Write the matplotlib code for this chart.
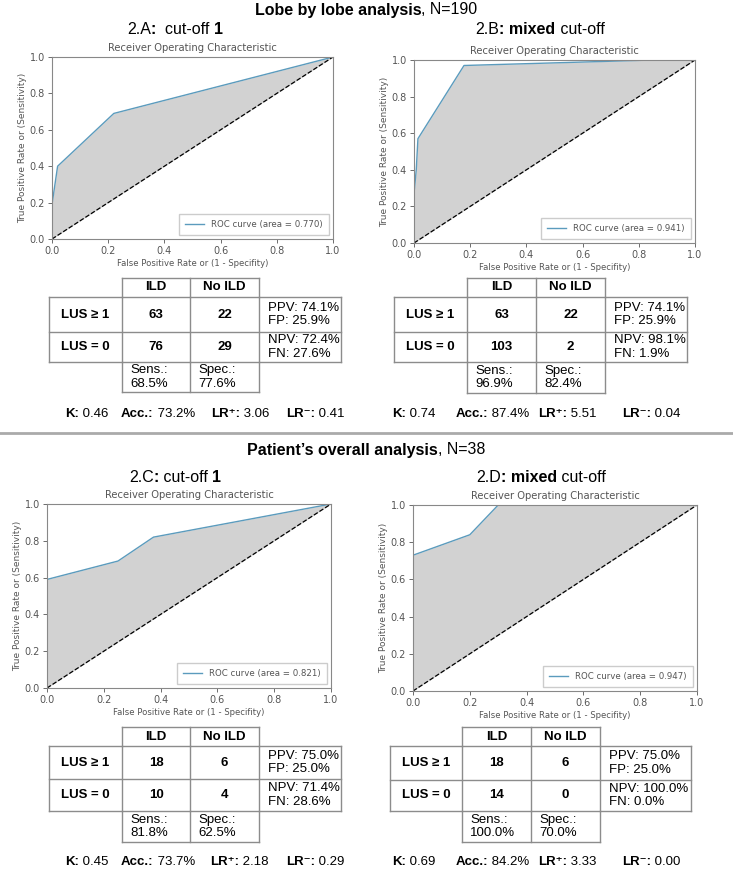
import matplotlib
matplotlib.use("Agg")
import matplotlib.pyplot as plt

plt.rcParams['font.family'] = ['Liberation Sans', 'DejaVu Sans']

# ROC curve points
fpr_a = [0.0, 0.0, 0.02, 0.22, 1.0]
tpr_a = [0.0, 0.19, 0.40, 0.69, 1.0]
fpr_b = [0.0, 0.0, 0.008, 0.014, 0.178, 0.85, 1.0]
tpr_b = [0.0, 0.27, 0.40, 0.57, 0.97, 1.0, 1.0]
fpr_c = [0.0, 0.0, 0.25, 0.375, 1.0]
tpr_c = [0.0, 0.59, 0.69, 0.82, 1.0]
fpr_d = [0.0, 0.0, 0.2, 0.3, 1.0]
tpr_d = [0.0, 0.73, 0.84, 1.0, 1.0]
auc = ["0.770", "0.941", "0.821", "0.947"]

# contingency tables: [[LUS>=1 ILD, LUS>=1 no ILD], [LUS=0 ILD, LUS=0 no ILD]]
counts_a = [[63, 22], [76, 29]]
counts_b = [[63, 22], [103, 2]]
counts_c = [[18, 6], [10, 4]]
counts_d = [[18, 6], [14, 0]]
# PPV, FP, NPV, FN (%)
pred_a = [74.1, 25.9, 72.4, 27.6]
pred_b = [74.1, 25.9, 98.1, 1.9]
pred_c = [75.0, 25.0, 71.4, 28.6]
pred_d = [75.0, 25.0, 100.0, 0.0]
# Sens, Spec (%)
sens_spec_a = [68.5, 77.6]
sens_spec_b = [96.9, 82.4]
sens_spec_c = [81.8, 62.5]
sens_spec_d = [100.0, 70.0]
# K, Acc (%), LR+, LR-
stats_a = [0.46, 73.2, 3.06, 0.41]
stats_b = [0.74, 87.4, 5.51, 0.04]
stats_c = [0.45, 73.7, 2.18, 0.29]
stats_d = [0.69, 84.2, 3.33, 0.00]

W, H = 733, 869
fig = plt.figure(figsize=(W / 100, H / 100), dpi=100)
renderer = fig.canvas.get_renderer()

ov = fig.add_axes([0, 0, 1, 1])
ov.set_xlim(0, W)
ov.set_ylim(H, 0)
ov.axis('off')

GRAY = '#555555'
LINE = '#8c8c8c'


def rich(x, y, pieces, size, ha='center'):
    # pieces of (text, weight) drawn side by side
    texts = [ov.text(0, y, s, fontsize=size, fontweight=w, va='center', ha='left')
             for s, w in pieces]
    widths = [t.get_window_extent(renderer).width for t in texts]
    x0 = x - sum(widths) / 2 if ha == 'center' else x
    for t, w in zip(texts, widths):
        t.set_x(x0)
        x0 += w


def roc(box, fpr, tpr, area):
    x0, y0, x1, y1 = box
    ax = fig.add_axes([x0 / W, 1 - y1 / H, (x1 - x0) / W, (y1 - y0) / H])
    ax.fill_between(fpr, tpr, fpr, color='#d2d2d2', lw=0)
    ax.plot(fpr, tpr, color='#5b9bbd', lw=1, label='ROC curve (area = %s)' % area)
    ax.plot([0, 1], [0, 1], 'k--', lw=0.9)
    ax.set_xlim(0, 1)
    ax.set_ylim(0, 1)
    ax.set_xticks([0, 0.2, 0.4, 0.6, 0.8, 1.0])
    ax.set_yticks([0, 0.2, 0.4, 0.6, 0.8, 1.0])
    for lab in ax.get_xticklabels() + ax.get_yticklabels():
        lab.set_family('DejaVu Sans')
    ax.tick_params(labelsize=7, colors=GRAY, length=3, width=0.6, pad=2)
    for s in ax.spines.values():
        s.set_color('#888888')
        s.set_linewidth(0.8)
    ax.set_title('Receiver Operating Characteristic', fontsize=7.2, color=GRAY,
                 family='DejaVu Sans', pad=4)
    ax.set_xlabel('False Positive Rate or (1 - Specifity)', fontsize=6.1, color=GRAY,
                  family='DejaVu Sans', labelpad=2)
    ax.set_ylabel('True Positive Rate or (Sensitivity)', fontsize=6.5, color=GRAY,
                  family='DejaVu Sans', labelpad=2)
    leg = ax.legend(loc='lower right', prop={'family': 'DejaVu Sans', 'size': 6.2},
                    fancybox=False, framealpha=1, edgecolor='#cccccc', handlelength=2.2,
                    borderpad=0.7)
    for t in leg.get_texts():
        t.set_color(GRAY)


def hline(xa, xb, y):
    ov.plot([xa, xb], [y, y], color=LINE, lw=1)


def vline(x, ya, yb):
    ov.plot([x, x], [ya, yb], color=LINE, lw=1)


def table(cols, rows, counts, pred, ss, stats, stat_x, stat_y):
    c0, c1, c2, c3, c4 = cols
    r0, r1, r2, r3, r4 = rows
    # header box
    hline(c1, c3, r0)
    vline(c1, r0, r1)
    vline(c2, r0, r1)
    vline(c3, r0, r1)
    # main box
    hline(c0, c4, r1)
    hline(c0, c4, r2)
    hline(c0, c4, r3)
    for c in cols:
        vline(c, r1, r3)
    # bottom box
    hline(c1, c3, r4)
    vline(c1, r3, r4)
    vline(c2, r3, r4)
    vline(c3, r3, r4)

    fs = 9.5
    ov.text((c1 + c2) / 2, (r0 + r1) / 2, 'ILD', fontsize=fs, fontweight='bold',
            ha='center', va='center')
    ov.text((c2 + c3) / 2, (r0 + r1) / 2, 'No ILD', fontsize=fs, fontweight='bold',
            ha='center', va='center')
    row_labels = ['LUS \u2265 1', 'LUS = 0']
    row_mid = [(r1 + r2) / 2, (r2 + r3) / 2]
    for i in range(2):
        ov.text((c0 + c1) / 2, row_mid[i], row_labels[i], fontsize=fs, fontweight='bold',
                ha='center', va='center')
        ov.text((c1 + c2) / 2, row_mid[i], str(counts[i][0]), fontsize=fs,
                fontweight='bold', ha='center', va='center')
        ov.text((c2 + c3) / 2, row_mid[i], str(counts[i][1]), fontsize=fs,
                fontweight='bold', ha='center', va='center')
    ov.text(c3 + 9, row_mid[0], 'PPV: %.1f%%\nFP: %.1f%%' % (pred[0], pred[1]),
            fontsize=fs, ha='left', va='center', linespacing=1.15)
    ov.text(c3 + 9, row_mid[1], 'NPV: %.1f%%\nFN: %.1f%%' % (pred[2], pred[3]),
            fontsize=fs, ha='left', va='center', linespacing=1.15)
    ov.text(c1 + 8, (r3 + r4) / 2, 'Sens.:\n%.1f%%' % ss[0], fontsize=fs,
            ha='left', va='center', linespacing=1.15)
    ov.text(c2 + 8, (r3 + r4) / 2, 'Spec.:\n%.1f%%' % ss[1], fontsize=fs,
            ha='left', va='center', linespacing=1.15)

    labels = ['K:', 'Acc.:', 'LR\u207a:', 'LR\u207b:']
    values = [' %.2f' % stats[0], ' %.1f%%' % stats[1], ' %.2f' % stats[2], ' %.2f' % stats[3]]
    for x, lab, val in zip(stat_x, labels, values):
        rich(x, stat_y, [(lab, 'bold'), (val, 'normal')], fs, ha='left')


# ROC panels
roc((52, 57, 333, 239), fpr_a, tpr_a, auc[0])
roc((414, 60, 695, 243), fpr_b, tpr_b, auc[1])
roc((47, 504, 331, 688), fpr_c, tpr_c, auc[2])
roc((413, 505, 697, 691), fpr_d, tpr_d, auc[3])

# titles
rich(366, 10, [('Lobe by lobe analysis', 'bold'), (', N=190', 'normal')], 11.5)
rich(175, 30, [('2.A', 'normal'), (':', 'bold'), ('  cut-off ', 'normal'), ('1', 'bold')], 11.5)
rich(540, 29, [('2.B', 'normal'), (': mixed', 'bold'), (' cut-off', 'normal')], 11.5)
rich(366, 450, [('Patient\u2019s overall analysis', 'bold'), (', N=38', 'normal')], 11.5)
rich(175, 477, [('2.C', 'normal'), (':', 'bold'), (' cut-off ', 'normal'), ('1', 'bold')], 11.5)
rich(541, 477, [('2.D', 'normal'), (': mixed', 'bold'), (' cut-off', 'normal')], 11.5)

# separator
ov.plot([0, W], [433, 433], color='#aaaaaa', lw=2)

# tables
table([49, 122, 190, 259, 341], [278, 297, 332, 362, 392], counts_a, pred_a,
      sens_spec_a, stats_a, [65, 121, 211, 286], 414)
table([394, 467, 536, 605, 687], [278, 297, 332, 362, 393], counts_b, pred_b,
      sens_spec_b, stats_b, [392, 456, 538, 622], 414)
table([49, 122, 190, 259, 341], [727, 746, 779, 811, 842], counts_c, pred_c,
      sens_spec_c, stats_c, [65, 121, 210, 286], 862)
table([390, 462, 531, 600, 691], [727, 746, 780, 811, 842], counts_d, pred_d,
      sens_spec_d, stats_d, [392, 456, 538, 622], 862)

fig.savefig('out.png', dpi=100)
